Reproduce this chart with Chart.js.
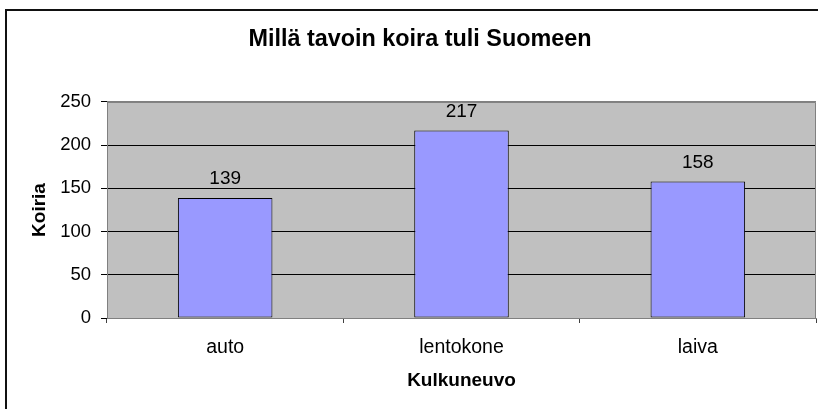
<!DOCTYPE html>
<html><head><meta charset="utf-8">
<script src="https://cdn.jsdelivr.net/npm/chart.js@4/dist/chart.umd.min.js"></script>
<style>
html,body{margin:0;padding:0;background:#fff;overflow:hidden;}
#wrap{position:absolute;left:0;top:0;width:818px;height:409px;}
</style></head><body>
<div id="wrap"><canvas id="c"></canvas></div>
<script>
const categories = ['auto', 'lentokone', 'laiva'];
const koiria = [139, 217, 158];
const yTicks = [0, 50, 100, 150, 200, 250];
const chartTitle = 'Millä tavoin koira tuli Suomeen';
const xTitle = 'Kulkuneuvo';
const yTitle = 'Koiria';

const FONT = '"Liberation Sans", Arial, sans-serif';

const framePlugin = {
  id: 'frame',
  beforeDraw(chart) {
    const {ctx, chartArea: a} = chart;
    ctx.save();
    ctx.fillStyle = '#ffffff';
    ctx.fillRect(0, 0, chart.width, chart.height);
    ctx.strokeStyle = '#111111';
    ctx.lineWidth = 2;
    ctx.strokeRect(6, 10, chart.width + 20, chart.height + 20);
    ctx.fillStyle = '#C0C0C0';
    ctx.fillRect(a.left, a.top, a.right - a.left, a.bottom - a.top);
    ctx.restore();
  },
  beforeDatasetsDraw(chart) {
    const {ctx, chartArea: a} = chart;
    ctx.save();
    ctx.strokeStyle = '#808080';
    ctx.lineWidth = 1;
    ctx.beginPath();
    ctx.moveTo(a.left, a.top + 0.5);
    ctx.lineTo(a.right - 0.5, a.top + 0.5);
    ctx.lineTo(a.right - 0.5, a.bottom);
    ctx.stroke();
    ctx.restore();
  }
};

const labelPlugin = {
  id: 'valueLabels',
  afterDatasetsDraw(chart) {
    const {ctx} = chart;
    const meta = chart.getDatasetMeta(0);
    ctx.save();
    ctx.fillStyle = '#000';
    ctx.font = '19px ' + FONT;
    ctx.textAlign = 'center';
    ctx.textBaseline = 'alphabetic';
    meta.data.forEach((bar, i) => {
      ctx.fillText(String(chart.data.datasets[0].data[i]), bar.x, bar.y - 13.6);
    });
    ctx.restore();
  }
};

new Chart(document.getElementById('c'), {
  type: 'bar',
  data: {
    labels: categories,
    datasets: [{
      data: koiria,
      backgroundColor: '#9999FF',
      borderColor: '#000000',
      borderWidth: 1,
      borderSkipped: false,
      barPercentage: 0.4,
      categoryPercentage: 1.0
    }]
  },
  options: {
    responsive: true,
    maintainAspectRatio: false,
    animation: false,
    devicePixelRatio: 1,
    layout: {padding: {left: 24, right: 2, top: 0, bottom: 0}},
    plugins: {
      legend: {display: false},
      tooltip: {enabled: false},
      title: {
        display: true,
        text: chartTitle,
        color: '#000',
        font: {family: FONT, size: 23.4, weight: 'bold', lineHeight: 1.2},
        padding: {top: 26, bottom: 47.9}
      }
    },
    scales: {
      x: {
        offset: true,
        grid: {
          offset: true,
          drawOnChartArea: false,
          drawTicks: true,
          tickLength: 5,
          tickColor: '#404040',
          lineWidth: 1
        },
        border: {display: true, color: '#808080', width: 1},
        ticks: {color: '#000', font: {family: FONT, size: 19.5}, padding: 13.3},
        title: {
          display: true,
          text: xTitle,
          color: '#000',
          font: {family: FONT, size: 19, weight: 'bold', lineHeight: 1.2},
          padding: {top: 0, bottom: 16.6}
        },
        afterFit(scale) { scale.height = 91; }
      },
      y: {
        min: 0,
        max: 250,
        afterBuildTicks(scale) { scale.ticks = yTicks.map(v => ({value: v})); },
        grid: {
          color: (c) => (c.tick && c.tick.value === 250) ? '#808080' : '#000000',
          lineWidth: 1,
          tickLength: 6,
          tickColor: '#000000'
        },
        border: {display: true, color: '#808080', width: 1},
        ticks: {color: '#000', font: {family: FONT, size: 18.5}, padding: 10},
        title: {
          display: true,
          text: yTitle,
          color: '#000',
          font: {family: FONT, size: 19, weight: 'bold', lineHeight: 1.2},
          padding: {top: 4.6, bottom: 0}
        },
        afterFit(scale) { scale.width = 83; }
      }
    }
  },
  plugins: [framePlugin, labelPlugin]
});
</script>
</body></html>
